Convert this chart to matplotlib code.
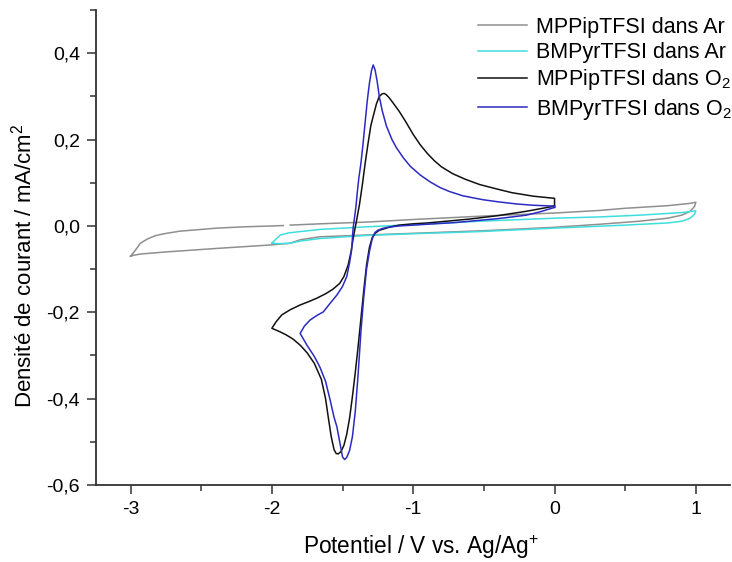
import matplotlib
matplotlib.use("Agg")
import matplotlib.pyplot as plt
from matplotlib.ticker import MultipleLocator, FuncFormatter
import numpy as np

plt.rcParams['font.family'] = ['Liberation Sans', 'DejaVu Sans']
plt.rcParams['mathtext.fontset'] = 'custom'
plt.rcParams['mathtext.rm'] = 'Liberation Sans'
plt.rcParams['mathtext.it'] = 'Liberation Sans:italic'

# MPPipTFSI dans Ar (aller puis retour)
mppip_ar_x = [-3.0, -2.97, -2.93, -2.88, -2.82, -2.745, -2.65, -2.50, -2.39, -2.20, -2.0, -1.92,
              np.nan, -1.87, -1.66, -1.33, -1.0, -0.5, 0.0, 0.32, 0.5, 0.8, 0.95, 1.0,
              0.99, 0.96, 0.90, 0.80, 0.6, 0.32, 0.0, -0.5, -1.0, -1.335, -1.66, -1.80, -1.87,
              -2.01, -2.39, -2.745, -2.93, -2.98, -3.0]
mppip_ar_y = [-0.070, -0.058, -0.040, -0.030, -0.022, -0.017, -0.012, -0.008, -0.005, -0.002, 0.000, 0.001,
              np.nan, 0.002, 0.005, 0.009, 0.015, 0.023, 0.030, 0.036, 0.041, 0.047, 0.052, 0.055,
              0.045, 0.034, 0.025, 0.018, 0.011, 0.004, -0.003, -0.011, -0.017, -0.021, -0.025, -0.032, -0.040,
              -0.044, -0.052, -0.060, -0.065, -0.068, -0.070]

# BMPyrTFSI dans Ar
bmpyr_ar_x = [-2.0, -1.97, -1.94, -1.88, -1.80, -1.66, -1.335, -1.0, -0.53, 0.0, 0.32, 0.6, 0.9, 1.0,
              0.99, 0.96, 0.90, 0.80, 0.5, 0.0, -0.53, -1.0, -1.335, -1.66, -1.80, -1.87, -1.95, -2.0]
bmpyr_ar_y = [-0.040, -0.030, -0.021, -0.016, -0.013, -0.008, -0.002, 0.003, 0.011, 0.018, 0.021, 0.025, 0.031, 0.035,
              0.027, 0.018, 0.011, 0.007, 0.002, -0.005, -0.013, -0.018, -0.022, -0.029, -0.035, -0.040, -0.041, -0.040]

# MPPipTFSI dans O2
mppip_o2_x = [0.0, -0.1, -0.2, -0.3, -0.4, -0.5, -0.6, -0.7, -0.8, -0.9, -1.0, -1.1, -1.16, -1.2, -1.24,
              -1.27, -1.29, -1.31, -1.33, -1.35, -1.37, -1.39, -1.41, -1.43, -1.45, -1.47, -1.49, -1.51,
              -1.53, -1.545, -1.56, -1.58, -1.60, -1.62, -1.65, -1.70, -1.75, -1.80, -1.85, -1.90, -1.95, -2.0,
              -1.97, -1.93, -1.87, -1.80, -1.73, -1.68, -1.62, -1.57, -1.52, -1.49, -1.46, -1.44, -1.42,
              -1.40, -1.38, -1.36, -1.34, -1.32, -1.30, -1.28, -1.26, -1.24, -1.22, -1.205, -1.19, -1.17,
              -1.14, -1.10, -1.05, -1.00, -0.95, -0.90, -0.85, -0.80, -0.72, -0.63, -0.53, -0.40, -0.30,
              -0.15, 0.0, 0.0]
mppip_o2_y = [0.046, 0.040, 0.034, 0.029, 0.024, 0.020, 0.016, 0.013, 0.010, 0.007, 0.005, 0.002, -0.002, -0.006, -0.010,
              -0.017, -0.027, -0.050, -0.090, -0.150, -0.215, -0.280, -0.340, -0.395, -0.445, -0.482, -0.508, -0.522,
              -0.528, -0.527, -0.518, -0.488, -0.445, -0.400, -0.355, -0.318, -0.294, -0.276, -0.262, -0.252, -0.244, -0.237,
              -0.222, -0.206, -0.194, -0.183, -0.174, -0.167, -0.157, -0.147, -0.133, -0.117, -0.090, -0.060, -0.020,
              0.014, 0.050, 0.095, 0.145, 0.190, 0.232, 0.258, 0.283, 0.300, 0.306, 0.307, 0.304, 0.297,
              0.284, 0.266, 0.240, 0.212, 0.188, 0.168, 0.151, 0.137, 0.121, 0.108, 0.096, 0.085, 0.077,
              0.069, 0.064, 0.046]

# BMPyrTFSI dans O2
bmpyr_o2_x = [0.0, -0.1, -0.2, -0.3, -0.4, -0.5, -0.6, -0.7, -0.8, -0.9, -1.0, -1.1, -1.18, -1.22, -1.25,
              -1.27, -1.29, -1.31, -1.33, -1.35, -1.37, -1.39, -1.41, -1.43, -1.45, -1.47, -1.485, -1.50,
              -1.52, -1.54, -1.56, -1.59, -1.62, -1.66, -1.70, -1.75, -1.80,
              -1.77, -1.73, -1.68, -1.636, -1.59, -1.54, -1.50, -1.47, -1.45, -1.436, -1.425, -1.415, -1.405,
              -1.395, -1.385, -1.37, -1.355, -1.34, -1.325, -1.31, -1.295, -1.283, -1.27, -1.255, -1.24, -1.22,
              -1.19, -1.15, -1.12, -1.07, -1.02, -0.95, -0.88, -0.81, -0.745, -0.65, -0.51, -0.40, -0.27,
              -0.15, 0.0, 0.0]
bmpyr_o2_y = [0.043, 0.033, 0.025, 0.021, 0.017, 0.014, 0.011, 0.008, 0.006, 0.004, 0.002, 0.000, -0.003, -0.006, -0.010,
              -0.015, -0.030, -0.060, -0.100, -0.165, -0.245, -0.345, -0.430, -0.488, -0.520, -0.536, -0.541, -0.535,
              -0.500, -0.465, -0.443, -0.400, -0.360, -0.327, -0.302, -0.277, -0.249,
              -0.232, -0.218, -0.207, -0.199, -0.180, -0.160, -0.140, -0.117, -0.085, -0.056, -0.005, 0.020, 0.045,
              0.080, 0.110, 0.145, 0.190, 0.240, 0.290, 0.330, 0.360, 0.373, 0.362, 0.335, 0.300, 0.268,
              0.232, 0.200, 0.182, 0.158, 0.138, 0.118, 0.102, 0.089, 0.080, 0.070, 0.061, 0.056, 0.051,
              0.048, 0.046, 0.043]

labels = ['MPPipTFSI dans Ar', 'BMPyrTFSI dans Ar',
          r'MPPipTFSI dans O$_\mathregular{2}$', r'BMPyrTFSI dans O$_\mathregular{2}$']
colors = ['#8f8f8f', '#3fdede', '#111111', '#2b2bc4']

fig = plt.figure(figsize=(7.32, 5.62), dpi=100)
ax = fig.add_axes([0.131, 0.137, 0.866, 0.845])

ax.plot(mppip_ar_x, mppip_ar_y, color=colors[0], lw=1.1, label=labels[0])
ax.plot(bmpyr_ar_x, bmpyr_ar_y, color=colors[1], lw=1.1, label=labels[1])
ax.plot(mppip_o2_x, mppip_o2_y, color=colors[2], lw=1.1, label=labels[2])
ax.plot(bmpyr_o2_x, bmpyr_o2_y, color=colors[3], lw=1.1, label=labels[3])

ax.set_xlim(-3.245, 1.24)
ax.set_ylim(-0.6, 0.5)

for s in ['top', 'right']:
    ax.spines[s].set_visible(False)
for s in ['left', 'bottom']:
    ax.spines[s].set_color('#333333')
    ax.spines[s].set_linewidth(1.3)

ax.xaxis.set_major_locator(MultipleLocator(1))
ax.xaxis.set_minor_locator(MultipleLocator(0.5))
ax.yaxis.set_major_locator(MultipleLocator(0.2))
ax.yaxis.set_minor_locator(MultipleLocator(0.1))
ax.xaxis.set_major_formatter(FuncFormatter(lambda v, p: "0" if abs(v) < 1e-9 else f"{v:.0f}"))
ax.yaxis.set_major_formatter(FuncFormatter(lambda v, p: "0,0" if abs(v) < 1e-9 else f"{v:.1f}".replace('.', ',')))

ax.tick_params(which='major', direction='out', length=6.5, width=1.1, color='#333333', labelsize=14, pad=5)
ax.tick_params(which='minor', direction='out', length=4, width=1.1, color='#333333')

ax.set_xlabel(r'Potentiel / V vs. Ag/Ag$^\mathregular{+}$', fontsize=16.3)
ax.set_ylabel(r'Densité de courant / mA/cm$^\mathregular{2}$', fontsize=16)
ax.xaxis.set_label_coords(0.513, -0.101)
ax.yaxis.set_label_coords(-0.094, 0.461)

leg = ax.legend(loc='upper right', frameon=False, fontsize=15.5, handlelength=2.3,
                handletextpad=0.4, labelspacing=0.2, borderaxespad=0.0,
                bbox_to_anchor=(1.017, 1.004))

fig.savefig('out.png', dpi=100)
